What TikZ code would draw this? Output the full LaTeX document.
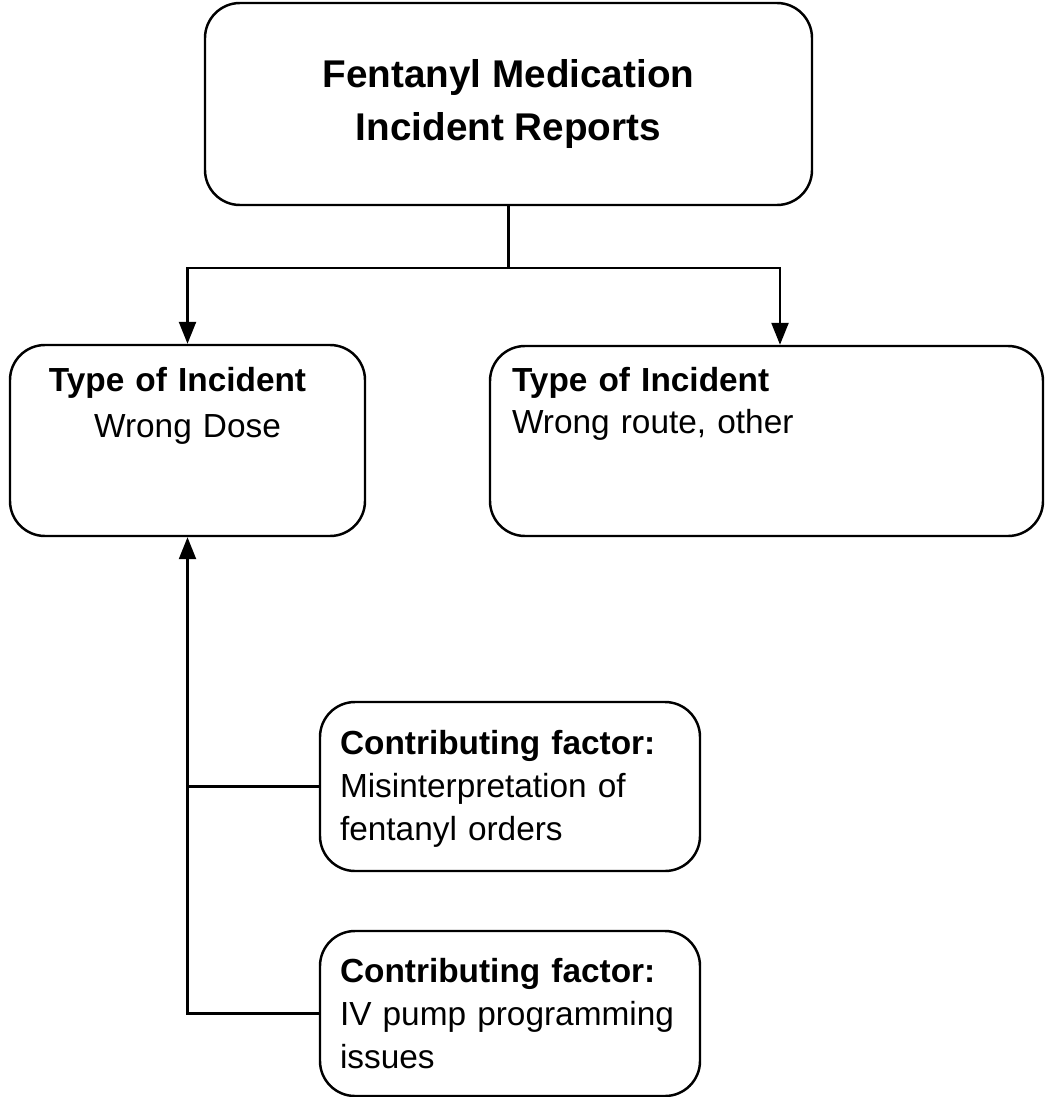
\documentclass[tikz,border=0pt]{standalone}
\usepackage{fontspec}
\setmainfont{Liberation Sans}
\usetikzlibrary{arrows.meta}
\pgfdeclarelayer{bg}
\pgfsetlayers{bg,main}
\tikzset{
    box/.style={rectangle, draw, line width=1.4pt, rounded corners=0.7cm, inner sep=0mm},
    link/.style={line width=1.4pt},
    arrow/.style={link, -{Triangle[length=0.44cm, width=0.34cm]}}
}

\begin{document}
\begin{tikzpicture}
        \useasboundingbox (0cm, 0cm) rectangle (20.900000cm, -21.940000cm);
        \node (rep) [box, minimum width=12.14cm, minimum height=4.04cm, align=center, font=\fontsize{22}{29.6}\selectfont\bfseries] at (10.170000cm, -2.080000cm) {Fentanyl Medication\\Incident Reports};
        \node (dose) [box, text width=7.1cm, text height=0.92cm, text depth=2.9cm, align=center, font=\fontsize{19}{26.7}\selectfont] at (3.750000cm, -8.810000cm) {\textbf{Type of Incident}\kern0.4cm\\Wrong Dose};
        \node (route) [box, text width=10.18cm, inner xsep=0.44cm, text height=0.9cm, text depth=2.9cm, align=left, font=\fontsize{19}{23.9}\selectfont] at (15.330000cm, -8.820000cm) {\textbf{Type of Incident}\\Wrong route, other};
        \node (misread) [box, text width=6.8cm, inner xsep=0.4cm, text height=1.04cm, text depth=2.34cm, align=left, font=\fontsize{19}{24.5}\selectfont] at (10.200000cm, -15.730000cm) {\textbf{Contributing factor:}\\Misinterpretation of\\fentanyl orders};
        \node (pump) [box, text width=6.8cm, inner xsep=0.4cm, text height=1.02cm, text depth=2.28cm, align=left, font=\fontsize{19}{24.5}\selectfont] at (10.200000cm, -20.270000cm) {\textbf{Contributing factor:}\\IV pump programming\\issues};
        \coordinate (fork) at (10.170000cm, -5.360000cm);
        \begin{pgfonlayer}{bg}
                \draw [link] (rep) -- (fork);
                \draw [arrow] (fork) -| (dose);
                \draw [arrow] (fork) -| ([xshift=0.27cm]route.north);
                \draw [arrow] (pump) -| (dose);
                \draw [link] (misread) -- (misread -| dose);
        \end{pgfonlayer}
\end{tikzpicture}
\end{document}
